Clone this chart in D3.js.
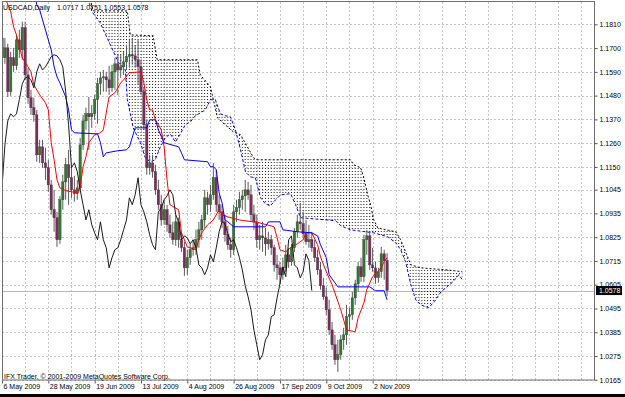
<!DOCTYPE html>
<html>
<head>
<meta charset="utf-8">
<script src="https://cdnjs.cloudflare.com/ajax/libs/d3/7.8.5/d3.min.js"></script>
<style>
html, body { margin: 0; padding: 0; background: #fff; overflow: hidden; }
svg { display: block; font-family: "Liberation Sans", Arial, sans-serif; }
</style>
</head>
<body>
<svg id="chart" width="625" height="397"></svg>
<script>
// USDCAD daily bars, 6 May 2009 .. 9 Nov 2009 (bar index 0..133)
var open = [
1.1747,1.1655,1.1701,1.1498,1.1655,1.1618,1.1738,1.1692,1.1794,1.1576,
1.1470,1.1424,1.1391,1.1206,1.1243,1.1169,1.1146,1.1067,1.0952,1.0915,
1.0813,1.0998,1.1081,1.1160,1.1100,1.1044,1.1026,1.1053,1.1252,1.1363,
1.1396,1.1382,1.1396,1.1461,1.1535,1.1562,1.1567,1.1553,1.1516,1.1590,
1.1627,1.1599,1.1613,1.1636,1.1660,1.1669,1.1664,1.1646,1.1613,1.1498,
1.1345,1.1146,1.1169,1.1128,1.1044,1.0975,1.0905,1.0952,1.0882,1.0845,
1.0813,1.0896,1.0813,1.0776,1.0683,1.0730,1.0767,1.0776,1.0813,1.0859,
1.0905,1.1007,1.0975,1.1021,1.1100,1.0975,1.0942,1.0896,1.0836,1.0790,
1.0767,1.0942,1.0961,1.0998,1.1016,1.1044,1.1021,1.0929,1.0896,1.0813,
1.0831,1.0822,1.0794,1.0813,1.0776,1.0697,1.0683,1.0651,1.0683,1.0743,
1.0711,1.0776,1.0850,1.0896,1.0887,1.0841,1.0804,1.0813,1.0776,1.0730,
1.0674,1.0600,1.0549,1.0489,1.0396,1.0327,1.0258,1.0281,1.0350,1.0373,
1.0457,1.0466,1.0544,1.0609,1.0688,1.0642,1.0813,1.0831,1.0697,1.0683,
1.0637,1.0665,1.0748,1.0717];

var high = [
1.1831,1.1747,1.1720,1.1683,1.1701,1.1761,1.1785,1.1822,1.1822,1.1609,
1.1507,1.1470,1.1414,1.1275,1.1275,1.1239,1.1183,1.1090,1.1044,1.0942,
1.1016,1.1114,1.1192,1.1229,1.1146,1.1109,1.1090,1.1285,1.1391,1.1424,
1.1474,1.1437,1.1484,1.1562,1.1590,1.1599,1.1590,1.1618,1.1623,1.1655,
1.1669,1.1669,1.1683,1.1715,1.1738,1.1747,1.1715,1.1738,1.1646,1.1516,
1.1368,1.1206,1.1206,1.1160,1.1090,1.1021,1.0998,1.0975,1.0929,1.0896,
1.0929,1.0915,1.0850,1.0804,1.0767,1.0794,1.0813,1.0859,1.0896,1.0929,
1.1044,1.1035,1.1067,1.1169,1.1137,1.1021,1.0975,1.0929,1.0878,1.0822,
1.0975,1.0998,1.1035,1.1044,1.1090,1.1081,1.1067,1.0975,1.0929,1.0882,
1.0896,1.0868,1.0850,1.0836,1.0790,1.0743,1.0711,1.0730,1.0790,1.0776,
1.0794,1.0868,1.0929,1.0984,1.0942,1.0905,1.0882,1.0850,1.0813,1.0767,
1.0711,1.0637,1.0591,1.0535,1.0433,1.0373,1.0350,1.0373,1.0406,1.0512,
1.0498,1.0572,1.0628,1.0711,1.0730,1.0836,1.0859,1.0850,1.0776,1.0711,
1.0683,1.0780,1.0767,1.0751];

var low = [
1.1623,1.1627,1.1474,1.1479,1.1590,1.1599,1.1655,1.1646,1.1553,1.1442,
1.1391,1.1359,1.1174,1.1169,1.1146,1.1090,1.1035,1.0929,1.0850,1.0780,
1.0794,1.0952,1.0998,1.0975,1.1007,1.0989,1.0998,1.1035,1.1229,1.1322,
1.1229,1.1331,1.1368,1.1350,1.1484,1.1498,1.1498,1.1484,1.1498,1.1507,
1.1484,1.1562,1.1576,1.1599,1.1609,1.1623,1.1609,1.1530,1.1484,1.1322,
1.1114,1.1114,1.1100,1.1021,1.0952,1.0878,1.0882,1.0850,1.0822,1.0790,
1.0785,1.0776,1.0757,1.0646,1.0651,1.0697,1.0739,1.0743,1.0776,1.0813,
1.0868,1.0929,1.0942,1.0998,1.0942,1.0905,1.0868,1.0804,1.0767,1.0730,
1.0743,1.0896,1.0929,1.0952,1.0942,1.0998,1.0896,1.0859,1.0776,1.0767,
1.0757,1.0739,1.0767,1.0743,1.0665,1.0628,1.0609,1.0628,1.0665,1.0683,
1.0693,1.0757,1.0822,1.0859,1.0822,1.0790,1.0776,1.0757,1.0711,1.0651,
1.0582,1.0535,1.0466,1.0373,1.0304,1.0234,1.0202,1.0258,1.0304,1.0327,
1.0396,1.0443,1.0512,1.0572,1.0618,1.0618,1.0743,1.0674,1.0665,1.0609,
1.0614,1.0637,1.0628,1.0553];

var close = [
1.1655,1.1701,1.1498,1.1655,1.1618,1.1738,1.1692,1.1794,1.1576,1.1470,
1.1424,1.1391,1.1206,1.1243,1.1169,1.1146,1.1067,1.0952,1.0915,1.0813,
1.0998,1.1081,1.1160,1.1100,1.1044,1.1026,1.1053,1.1252,1.1363,1.1396,
1.1382,1.1396,1.1461,1.1535,1.1562,1.1567,1.1553,1.1516,1.1590,1.1627,
1.1599,1.1613,1.1636,1.1660,1.1669,1.1664,1.1646,1.1613,1.1498,1.1345,
1.1146,1.1169,1.1128,1.1044,1.0975,1.0905,1.0952,1.0882,1.0845,1.0813,
1.0896,1.0813,1.0776,1.0683,1.0730,1.0767,1.0776,1.0813,1.0859,1.0905,
1.1007,1.0975,1.1021,1.1100,1.0975,1.0942,1.0896,1.0836,1.0790,1.0767,
1.0942,1.0961,1.0998,1.1016,1.1044,1.1021,1.0929,1.0896,1.0813,1.0831,
1.0822,1.0794,1.0813,1.0776,1.0697,1.0683,1.0651,1.0683,1.0743,1.0711,
1.0776,1.0850,1.0896,1.0887,1.0841,1.0804,1.0813,1.0776,1.0730,1.0674,
1.0600,1.0549,1.0489,1.0396,1.0327,1.0258,1.0281,1.0350,1.0373,1.0457,
1.0466,1.0544,1.0609,1.0688,1.0642,1.0813,1.0831,1.0697,1.0683,1.0637,
1.0665,1.0748,1.0716,1.0578];

// Ichimoku lines as [bar, price] vertices
var tenkan = [[0,1.1969],[3,1.1868],[4,1.1798],[5,1.1761],[6,1.1706],[7,1.1655],[8,1.1636],[10,1.1590],[11,1.1530],[13,1.1484],[15,1.1447],[16,1.1414],[17,1.1262],[18,1.1183],[19,1.1090],[20,1.1053],[22,1.1040],[26,1.1030],[27,1.1058],[28,1.1151],[29,1.1197],[30,1.1262],[32,1.1299],[34,1.1308],[35,1.1322],[36,1.1400],[37,1.1474],[39,1.1493],[41,1.1539],[42,1.1553],[44,1.1586],[48,1.1590],[49,1.1539],[50,1.1461],[51,1.1414],[52,1.1414],[53,1.1368],[55,1.1322],[56,1.1243],[57,1.1090],[58,1.0975],[61,1.0952],[62,1.0845],[64,1.0780],[67,1.0767],[68,1.0813],[69,1.0845],[71,1.0882],[73,1.0905],[75,1.0952],[76,1.0929],[78,1.0919],[82,1.0905],[89,1.0891],[94,1.0873],[95,1.0822],[96,1.0767],[98,1.0757],[100,1.0780],[102,1.0794],[104,1.0813],[105,1.0845],[107,1.0845],[109,1.0790],[110,1.0734],[112,1.0665],[114,1.0605],[117,1.0489],[119,1.0396],[122,1.0387],[123,1.0452],[125,1.0521],[126,1.0582],[128,1.0642],[130,1.0665],[132,1.0711],[133,1.0730]];

var kijun = [[10,1.2062],[12,1.1900],[13,1.1877],[14,1.1831],[16,1.1738],[17,1.1692],[18,1.1613],[19,1.1567],[20,1.1539],[22,1.1474],[23,1.1414],[24,1.1322],[25,1.1308],[33,1.1303],[34,1.1262],[35,1.1197],[36,1.1215],[40,1.1225],[43,1.1229],[44,1.1243],[46,1.1331],[50,1.1331],[51,1.1368],[53,1.1368],[54,1.1322],[56,1.1262],[61,1.1243],[62,1.1215],[63,1.1183],[71,1.1174],[72,1.1151],[73,1.1151],[74,1.1137],[75,1.1030],[76,1.0984],[77,1.0905],[78,1.0896],[80,1.0873],[91,1.0873],[92,1.0896],[96,1.0896],[97,1.0859],[102,1.0850],[107,1.0845],[109,1.0831],[110,1.0790],[112,1.0730],[113,1.0651],[115,1.0614],[116,1.0595],[127,1.0595],[129,1.0577],[132,1.0577],[133,1.0535]];

var spanA = [[27,1.2039],[31.1,1.1868],[33.9,1.1817],[37.4,1.1715],[40.1,1.1636],[42.6,1.1599],[43.3,1.1461],[45.3,1.1331],[47.8,1.1262],[49.5,1.1192],[51.2,1.1174],[52.9,1.1183],[54.7,1.1243],[56.4,1.1285],[58.1,1.1303],[59.9,1.1266],[61.6,1.1303],[63.3,1.1345],[65.1,1.1359],[66.8,1.1387],[68.5,1.1400],[70.2,1.1414],[72.0,1.1461],[73.7,1.1461],[75.4,1.1396],[77.2,1.1387],[78.9,1.1382],[80.6,1.1322],[82.4,1.1229],[84.1,1.1127],[85.8,1.1104],[87.5,1.1100],[89.3,1.1007],[91.0,1.0979],[92.7,1.0970],[94.5,1.0998],[96.2,1.1021],[99.7,1.1026],[101.4,1.0975],[103.1,1.0915],[115.2,1.0901],[117.0,1.0878],[120.4,1.0859],[128.4,1.0845],[133.2,1.0827],[136.0,1.0799],[137.7,1.0767],[139.4,1.0711],[141.2,1.0605],[142.9,1.0535],[144.6,1.0512],[147.4,1.0498],[149.8,1.0535],[151.6,1.0572],[153.3,1.0591],[155.7,1.0618],[157.8,1.0651],[159,1.0628]];

var spanB = [[28.7,1.2016],[31.5,1.1872],[43.3,1.1872],[44.3,1.1761],[52.2,1.1757],[53.6,1.1646],[67.5,1.1646],[68.5,1.1576],[72.0,1.1521],[73.0,1.1461],[74.4,1.1377],[79.9,1.1312],[82.4,1.1299],[83.4,1.1275],[86.9,1.1192],[88.2,1.1183],[120.4,1.1183],[121.5,1.1160],[123.9,1.1146],[124.9,1.1104],[126.3,1.1021],[127.3,1.0975],[128.4,1.0905],[129.8,1.0868],[132.5,1.0859],[136.0,1.0850],[137.7,1.0813],[139.4,1.0757],[141.2,1.0697],[144.6,1.0683],[153.3,1.0674],[156.7,1.0669],[159,1.0665]];

var dateLabels = ["6 May 2009","28 May 2009","19 Jun 2009","13 Jul 2009","4 Aug 2009","26 Aug 2009","17 Sep 2009","9 Oct 2009","2 Nov 2009"];
var dateBars = [0,16,32,48,64,80,96,112,128];
var priceTicks = [1.1810,1.1700,1.1590,1.1480,1.1370,1.1260,1.1150,1.1045,1.0935,1.0825,1.0715,1.0605,1.0495,1.0385,1.0275,1.0165];

var symbol = "USDCAD", period = "Daily";

var svg = d3.select("#chart"),
    width = +svg.attr("width"),
    height = +svg.attr("height");

var plot = {left: 2, right: 594, top: 2, bottom: 380};

// bar index -> pixel, price -> pixel
var x = d3.scaleLinear().domain([0, 128]).range([2, 372.6]);
var y = d3.scaleLinear().domain([1.0165, 1.1810]).range([379.8, 24.3]);
var step = x(1) - x(0);

svg.append("rect").attr("width", width).attr("height", height).attr("fill", "#fff");

var defs = svg.append("defs");
defs.append("clipPath").attr("id", "plotClip")
    .append("rect")
    .attr("x", plot.left).attr("y", plot.top)
    .attr("width", plot.right - plot.left).attr("height", plot.bottom - plot.top);

// dotted hatch of the cloud, one column of dots per bar
var pat = defs.append("pattern").attr("id", "cloudDots")
    .attr("patternUnits", "userSpaceOnUse")
    .attr("x", x(0) - 0.5).attr("y", 0)
    .attr("width", step).attr("height", 3);
pat.append("rect").attr("x", 0).attr("y", 0).attr("width", 1).attr("height", 1).attr("fill", "#1a1a1a");

// grid
var grid = svg.append("g").attr("class", "grid")
    .attr("stroke", "#c4c4c4").attr("stroke-width", 1).attr("stroke-dasharray", "2,2");

grid.selectAll("line.h").data(priceTicks).enter().append("line")
    .attr("class", "h")
    .attr("x1", plot.left).attr("x2", plot.right)
    .attr("y1", d => Math.round(y(d)) + 0.5).attr("y2", d => Math.round(y(d)) + 0.5);

grid.selectAll("line.v").data(d3.range(8, 208, 8).filter(b => x(b) < plot.right - 2)).enter().append("line")
    .attr("class", "v")
    .attr("y1", plot.top).attr("y2", plot.bottom)
    .attr("x1", d => Math.round(x(d)) + 0.5).attr("x2", d => Math.round(x(d)) + 0.5);

var chart = svg.append("g").attr("clip-path", "url(#plotClip)");

// current price line
var last = close.length - 1;
chart.append("line")
    .attr("x1", plot.left).attr("x2", plot.right)
    .attr("y1", Math.round(y(close[last])) + 0.5).attr("y2", Math.round(y(close[last])) + 0.5)
    .attr("stroke", "#b8b8b8").attr("stroke-width", 1);

// cloud between the two spans
var line = d3.line().x(d => x(d[0])).y(d => y(d[1]));

chart.append("path")
    .attr("d", line(spanB.concat(spanA.slice().reverse())) + "Z")
    .attr("fill", "url(#cloudDots)")
    .attr("stroke", "none");

chart.append("path")
    .attr("d", line(spanB))
    .attr("fill", "none").attr("stroke", "#000").attr("stroke-width", 1)
    .attr("stroke-dasharray", "2,2");

chart.append("path")
    .attr("d", line(spanA))
    .attr("fill", "none").attr("stroke", "#0000ff").attr("stroke-width", 1)
    .attr("stroke-dasharray", "3,2");

// candles
var bars = d3.range(open.length).map(i => ({i: i, o: open[i], h: high[i], l: low[i], c: close[i]}));

var candle = chart.append("g").selectAll("g").data(bars).enter().append("g");

candle.append("line")
    .attr("x1", d => x(d.i)).attr("x2", d => x(d.i))
    .attr("y1", d => y(d.h)).attr("y2", d => y(d.l))
    .attr("stroke", "#5a5a5a").attr("stroke-width", 1);

candle.append("rect")
    .attr("x", d => x(d.i) - 1.2)
    .attr("width", 2.4)
    .attr("y", d => y(Math.max(d.o, d.c)))
    .attr("height", d => Math.max(1, Math.abs(y(d.o) - y(d.c))))
    .attr("fill", d => d.c >= d.o ? "#2f7a2f" : "#802a5c")
    .attr("stroke", "#3a3a3a").attr("stroke-width", 0.4);

// tenkan, kijun, chikou
chart.append("path").attr("d", line(tenkan))
    .attr("fill", "none").attr("stroke", "#ff0000").attr("stroke-width", 1);

chart.append("path").attr("d", line(kijun))
    .attr("fill", "none").attr("stroke", "#0000ff").attr("stroke-width", 1);

var chikou = close.slice(26).map((c, j) => [j, c]);
chart.append("path").attr("d", line(chikou))
    .attr("fill", "none").attr("stroke", "#1a1a1a").attr("stroke-width", 1);

// frame
svg.append("rect")
    .attr("x", plot.left + 0.5).attr("y", plot.top - 0.5)
    .attr("width", plot.right - plot.left).attr("height", plot.bottom - plot.top + 0.5)
    .attr("fill", "none").attr("stroke", "#6e6e6e").attr("stroke-width", 1);

// price axis
var yAxis = svg.append("g")
    .attr("transform", "translate(" + (plot.right + 0.5) + ",0)")
    .call(d3.axisRight(y).tickValues(priceTicks).tickFormat(d3.format(".4f")).tickSize(3).tickPadding(2));
yAxis.select(".domain").remove();
yAxis.selectAll("line").attr("stroke", "#555");
yAxis.selectAll("text").attr("font-size", 7).attr("font-family", "Liberation Sans, Arial, sans-serif").attr("fill", "#000");

// last price marker
var yl = y(close[last]);
svg.append("rect").attr("x", 596).attr("y", yl - 4.5).attr("width", 26).attr("height", 9).attr("fill", "#000");
svg.append("text").attr("x", 599).attr("y", yl + 2.5)
    .attr("font-size", 7).attr("fill", "#fff")
    .text(d3.format(".4f")(close[last]));

// date axis
var xAxis = svg.append("g")
    .attr("transform", "translate(0," + (plot.bottom + 0.5) + ")")
    .call(d3.axisBottom(x).tickValues(dateBars).tickFormat((d, i) => dateLabels[i]).tickSize(3).tickPadding(1));
xAxis.select(".domain").remove();
xAxis.selectAll("line").attr("stroke", "#555");
xAxis.selectAll("text")
    .attr("text-anchor", "start").attr("dx", 1)
    .attr("font-size", 7).attr("font-family", "Liberation Sans, Arial, sans-serif").attr("fill", "#000");

// header and copyright
svg.append("text").attr("x", 3).attr("y", 10).attr("font-size", 7).attr("fill", "#000")
    .text(symbol + "," + period);
svg.append("text").attr("x", 57).attr("y", 10).attr("font-size", 7).attr("fill", "#000")
    .text([open[last], high[last], low[last], close[last]].map(d3.format(".4f")).join(" "));
svg.append("text").attr("x", 4).attr("y", 378.5).attr("font-size", 7).attr("fill", "#000")
    .text("IFX Trader, \u00a9 2001-2009 MetaQuotes Software Corp.");

// bottom status strip
svg.append("rect").attr("x", 0).attr("y", 394).attr("width", width).attr("height", 3).attr("fill", "#000");
</script>
</body>
</html>
